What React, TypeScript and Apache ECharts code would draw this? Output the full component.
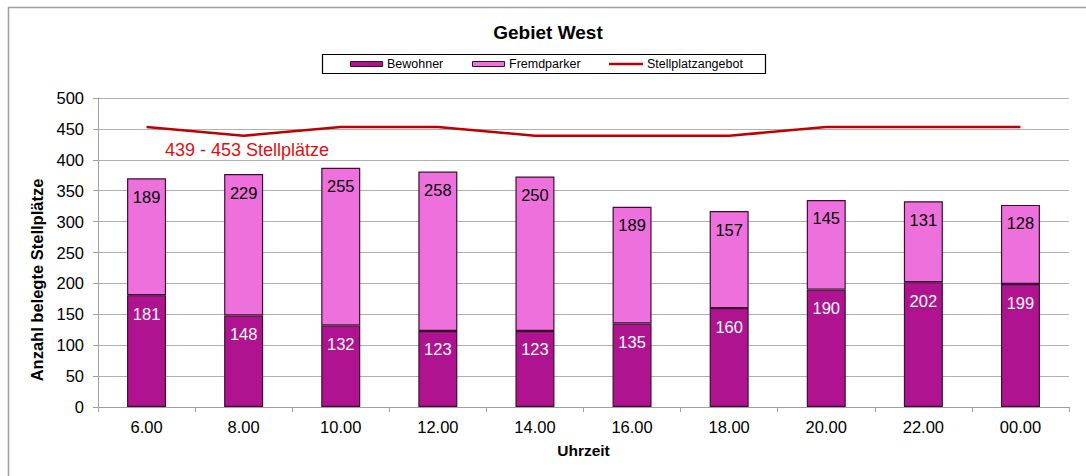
import React, { useEffect, useRef } from "react";
import * as echarts from "echarts";

const categories = ["6.00", "8.00", "10.00", "12.00", "14.00", "16.00", "18.00", "20.00", "22.00", "00.00"];
const bewohner = [181, 148, 132, 123, 123, 135, 160, 190, 202, 199];
const fremdparker = [189, 229, 255, 258, 250, 189, 157, 145, 131, 128];
const stellplatzangebot = [453, 439, 453, 453, 439, 439, 439, 453, 453, 453];
const yTicks = { min: 0, max: 500, interval: 50 };
const seriesNames = ["Bewohner", "Fremdparker", "Stellplatzangebot"];

const FONT = "Liberation Sans, Arial, sans-serif";
const C_BEW = "#B0138F";
const C_FREMD = "#EE70DC";
const C_LINE = "#C00000";
const C_BORDER = "#3a1030";

export default function App() {
  const ref = useRef<HTMLDivElement>(null);
  useEffect(() => {
    if (!ref.current) return;
    const chart = echarts.init(ref.current, null, { renderer: "svg" });
    const legendText = (x: number, text: string) => ({
      type: "text",
      x,
      y: 64,
      style: {
        text,
        fill: "#000",
        fontSize: 12.5,
        fontFamily: FONT,
        verticalAlign: "middle",
      },
      silent: true,
    });
    chart.setOption({
      animation: false,
      backgroundColor: "#ffffff",
      textStyle: { fontFamily: FONT },
      title: {
        text: "Gebiet West",
        left: 543,
        textAlign: "center",
        top: 18,
        textStyle: { fontSize: 19, fontWeight: "bold", color: "#000", fontFamily: FONT },
      },
      grid: { left: 98, right: 17, top: 98, bottom: 69, containLabel: false },
      xAxis: {
        type: "category",
        data: categories,
        name: "Uhrzeit",
        nameLocation: "middle",
        nameGap: 35,
        nameTextStyle: { fontSize: 15.5, fontWeight: "bold", color: "#000", fontFamily: FONT },
        axisLine: { lineStyle: { color: "#a0a0a0", width: 1 } },
        axisTick: { show: true, length: 5, lineStyle: { color: "#a0a0a0" } },
        axisLabel: { fontSize: 16.5, color: "#000", margin: 11, fontFamily: FONT },
      },
      yAxis: {
        type: "value",
        min: yTicks.min,
        max: yTicks.max,
        interval: yTicks.interval,
        axisLine: { show: true, lineStyle: { color: "#a0a0a0", width: 1 } },
        axisTick: { show: true, length: 5, lineStyle: { color: "#a0a0a0" } },
        axisLabel: { fontSize: 16.5, color: "#000", margin: 14, fontFamily: FONT },
        splitLine: { show: true, lineStyle: { color: "#b0b0b0", width: 1.2 } },
      },
      series: [
        {
          name: seriesNames[0],
          type: "bar",
          stack: "total",
          barWidth: 39,
          data: bewohner,
          itemStyle: { color: C_BEW, borderColor: C_BORDER, borderWidth: 1.2 },
          label: {
            show: true,
            position: "insideTop",
            distance: 10,
            color: "#ffffff",
            fontSize: 16.5,
            fontFamily: FONT,
          },
        },
        {
          name: seriesNames[1],
          type: "bar",
          stack: "total",
          barWidth: 39,
          data: fremdparker,
          itemStyle: { color: C_FREMD, borderColor: C_BORDER, borderWidth: 1.2 },
          label: {
            show: true,
            position: "insideTop",
            distance: 10,
            color: "#000000",
            fontSize: 16.5,
            fontFamily: FONT,
          },
        },
        {
          name: seriesNames[2],
          type: "line",
          data: stellplatzangebot,
          symbol: "none",
          lineStyle: { color: C_LINE, width: 2.6 },
          itemStyle: { color: C_LINE },
          z: 5,
        },
      ],
      graphic: [
        {
          type: "rect",
          shape: { x: 8.5, y: 7.5, width: 1300, height: 600 },
          style: { fill: "none", stroke: "#a0a0a0", lineWidth: 1.5 },
          silent: true,
        },
        {
          type: "text",
          x: 37,
          y: 280,
          rotation: Math.PI / 2,
          style: {
            text: "Anzahl belegte Stellplätze",
            fill: "#000",
            fontSize: 16.5,
            fontWeight: "bold",
            fontFamily: FONT,
            align: "center",
            verticalAlign: "middle",
          },
          silent: true,
        },
        {
          type: "rect",
          shape: { x: 322.5, y: 54.5, width: 443, height: 19 },
          style: { fill: "#fff", stroke: "#000", lineWidth: 1.2 },
          silent: true,
        },
        {
          type: "rect",
          shape: { x: 350.5, y: 61.5, width: 32, height: 5 },
          style: { fill: C_BEW, stroke: C_BORDER, lineWidth: 1 },
          silent: true,
        },
        legendText(387, seriesNames[0]),
        {
          type: "rect",
          shape: { x: 472.5, y: 61.5, width: 32, height: 5 },
          style: { fill: C_FREMD, stroke: C_BORDER, lineWidth: 1 },
          silent: true,
        },
        legendText(509, seriesNames[1]),
        {
          type: "line",
          shape: { x1: 609, y1: 64, x2: 643, y2: 64 },
          style: { stroke: C_LINE, lineWidth: 2.5 },
          silent: true,
        },
        legendText(647, seriesNames[2]),
        {
          type: "text",
          x: 165,
          y: 150,
          style: {
            text: "439 - 453 Stellplätze",
            fill: "#E01010",
            fontSize: 18,
            fontFamily: FONT,
            verticalAlign: "middle",
          },
        },
      ],
    });
    return () => chart.dispose();
  }, []);
  return (
    <div
      ref={ref}
      style={{ position: "absolute", left: 0, top: 0, width: 1086, height: 476 }}
    />
  );
}
